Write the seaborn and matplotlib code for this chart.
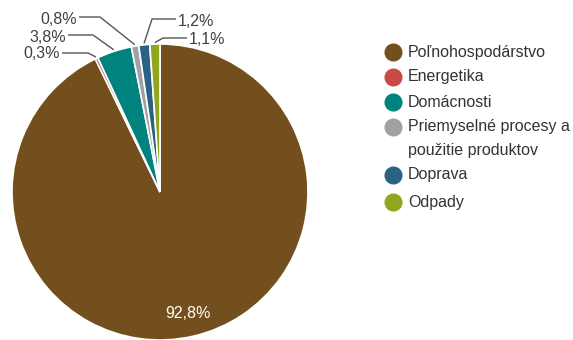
import matplotlib
matplotlib.use("Agg")
import matplotlib.pyplot as plt
import seaborn as sns
import numpy as np
from matplotlib.lines import Line2D

sns.set_theme(style="white")
plt.rcParams['font.family'] = ['Liberation Sans', 'DejaVu Sans']

categories = ["Poľnohospodárstvo", "Energetika", "Domácnosti",
              "Priemyselné procesy a\npoužitie produktov", "Doprava", "Odpady"]
values = [92.8, 0.3, 3.8, 0.8, 1.2, 1.1]
value_labels = ["92,8%", "0,3%", "3,8%", "0,8%", "1,2%", "1,1%"]
colors = ["#734f1e", "#c94a45", "#00827f", "#a0a1a3", "#2a6284", "#8fa61e"]

W, H = 573, 340
fig = plt.figure(figsize=(W / 100, H / 100), dpi=100)

cx, cy, R = 160, 192, 148
ax = fig.add_axes([(cx - R) / W, (H - cy - R) / H, 2 * R / W, 2 * R / H])

wedges, _ = ax.pie(values, colors=colors, startangle=90, counterclock=False,
                   radius=1, wedgeprops=dict(edgecolor="white", linewidth=1.2))
ax.set_xlim(-1, 1)
ax.set_ylim(-1, 1)
ax.set_aspect("equal")
ax.axis("off")

def px(x, y):
    return ((x - cx) / R, (cy - y) / R)

# inner label for the big slice
w0 = wedges[0]
mid = np.deg2rad((w0.theta1 + w0.theta2) / 2)
ax.text(0.84 * np.cos(mid), 0.84 * np.sin(mid), value_labels[0], color="white",
        fontsize=11.5, ha="center", va="center")

# outside labels with leader lines: (text anchor px, ha, elbow px)
layout = {
    1: ((60, 54), "right", (88, 53)),
    2: ((66, 37), "right", (93, 35)),
    3: ((77, 19), "right", (100, 17)),
    4: ((178, 21), "left", (152, 19)),
    5: ((189, 40), "left", (163, 38)),
}
lc = "#555555"
for i, (tpos, ha, elbow) in layout.items():
    w = wedges[i]
    m = np.deg2rad((w.theta1 + w.theta2) / 2)
    end = (1.01 * np.cos(m), 1.01 * np.sin(m))
    tx, ty = px(*tpos)
    ex, ey = px(*elbow)
    gap = 2 / R if ha == "right" else -2 / R
    ax.plot([tx + gap, ex, end[0]], [ey, ey, end[1]],
            color=lc, lw=1, clip_on=False, solid_capstyle="butt")
    ax.text(tx, ty, value_labels[i], ha=ha, va="center", fontsize=11.5,
            color="#404040", clip_on=False)

# legend
ys = [52, 77, 102, 127, 175, 202]
for lab, col, y in zip(categories, colors, ys):
    fig.add_artist(Line2D([393 / W], [1 - y / H], marker="o", markersize=12,
                          markerfacecolor=col, markeredgecolor=col, linestyle="none"))
    for k, line in enumerate(lab.split("\n")):
        fig.text(408 / W, 1 - (y + 23 * k) / H, line, fontsize=11.5,
                 color="#333333", ha="left", va="center")

fig.savefig("out.png", dpi=100)
